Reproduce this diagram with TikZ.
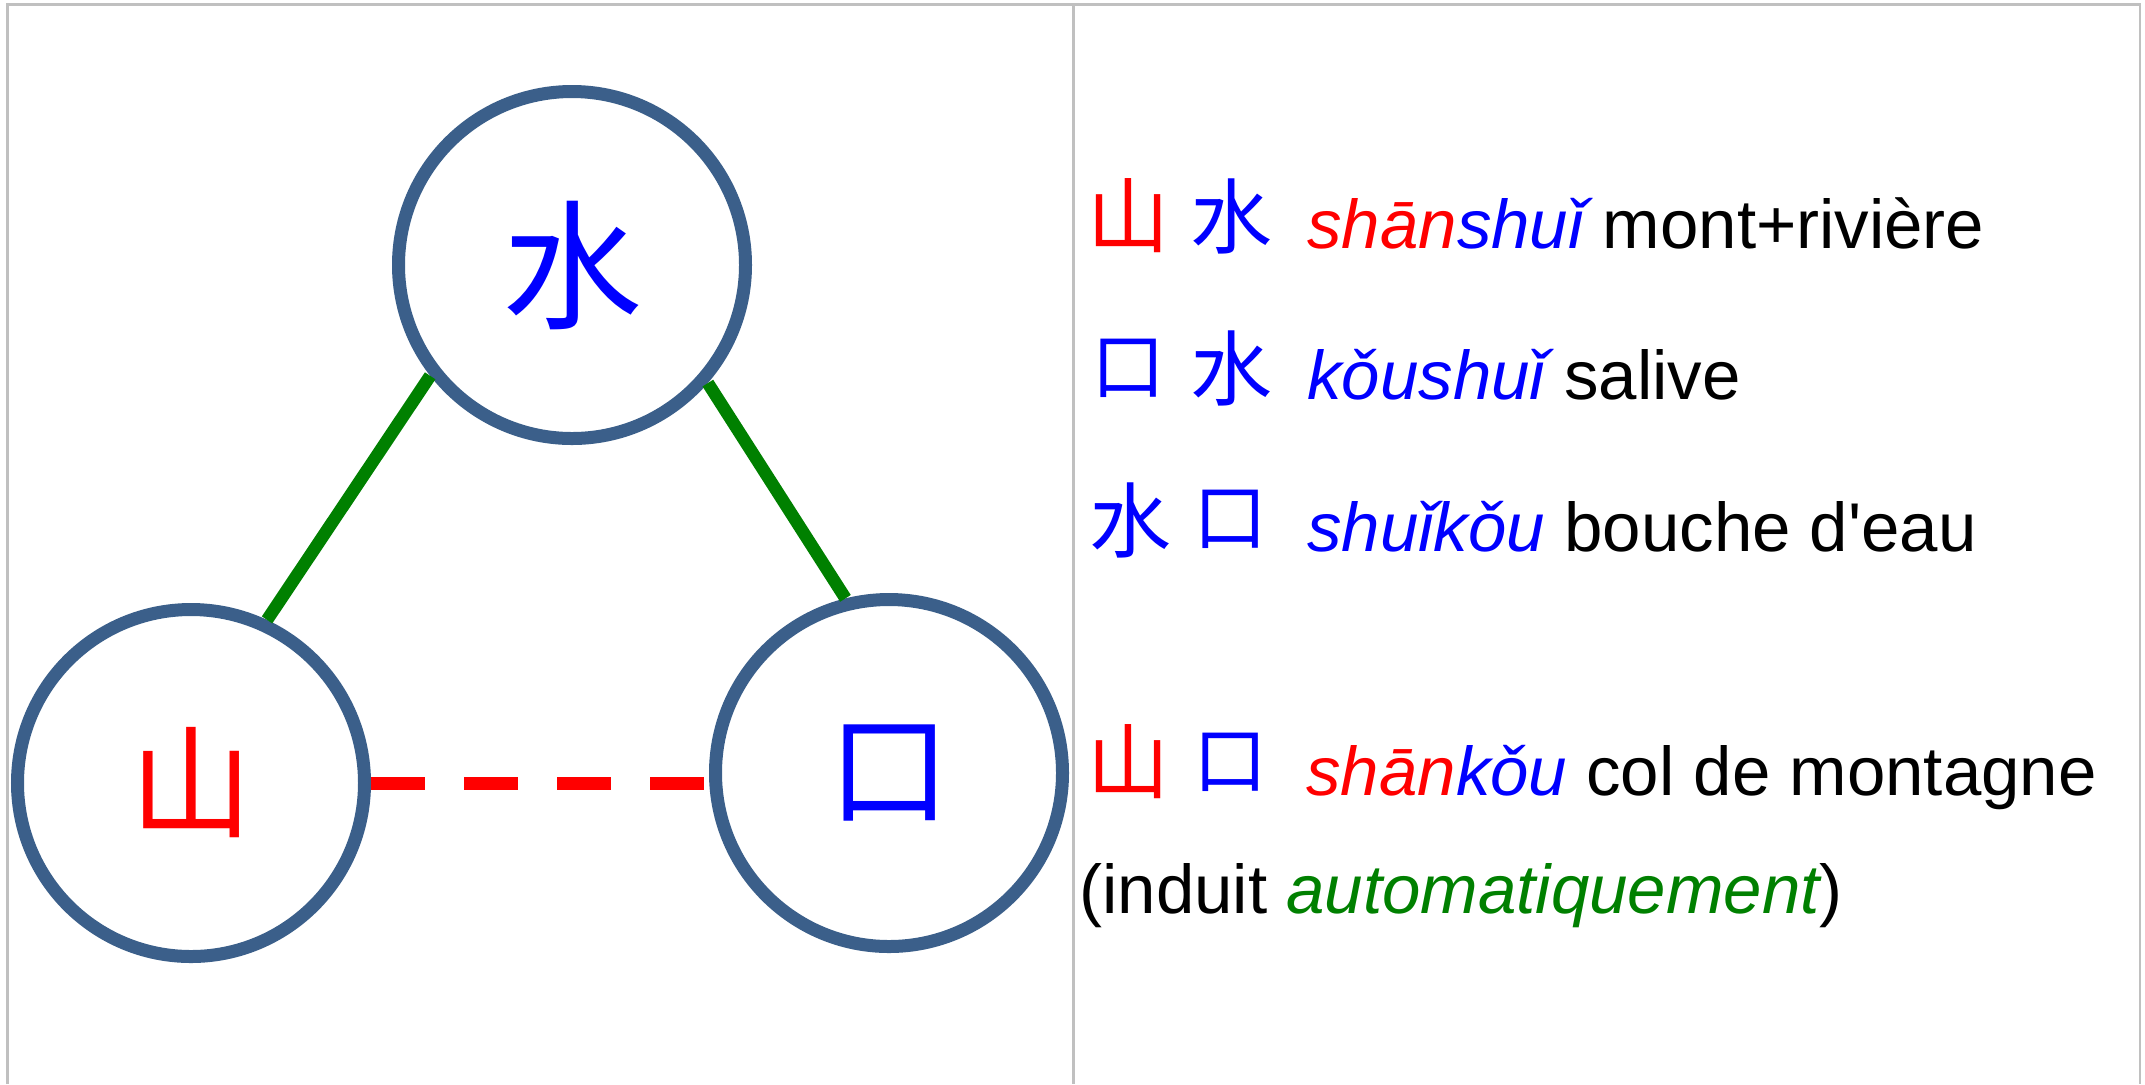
\documentclass[tikz,border=0pt]{standalone}
\usepackage{fontspec}
\newfontfamily\arialf{Liberation Sans}
\newfontfamily\cjk{Noto Sans CJK SC}
\definecolor{circ}{HTML}{3B5F8A}
\definecolor{grn}{HTML}{008000}
\definecolor{gridc}{HTML}{C0C0C0}
\begin{document}
\begin{tikzpicture}[x=0.5pt,y=-0.5pt,
  hanzi/.style={circle,draw=circ,line width=6.5pt,minimum size=173.5pt,inner sep=0pt,
    font=\cjk\fontsize{70pt}{70pt}\selectfont},
  smallhanzi/.style={hanzi,font=\cjk\fontsize{61pt}{61pt}\selectfont},
  gloss/.style={anchor=base west,inner sep=0pt,font=\arialf\fontsize{34.5pt}{40pt}\selectfont},
  zi/.style={inner sep=0pt,font=\cjk\fontsize{41pt}{41pt}\selectfont},
  smallzi/.style={inner sep=0pt,font=\cjk\fontsize{37pt}{37pt}\selectfont},
  link/.style={draw=grn,line width=6.3pt},
  frame/.style={draw=gridc,line width=1.25pt}]
\useasboundingbox (0,0) rectangle (2145,1084);
% table frame
\draw[frame] (7.5,1084) -- (7.5,4.5) -- (2140,4.5) -- (2140,1084);
\draw[frame] (1073.5,4.5) -- (1073.5,1084);
% circles
\node[hanzi,text=blue] (T) at (572,265) {水};
\node[smallhanzi,text=red]  (L) at (191,783) {山};
\node[smallhanzi,text=blue] (R) at (889,773) {口};
% connectors
\draw[link] (L.65.3) -- (T.218.5);
\draw[link] (T.319.3) -- (R.104.8);
\draw[draw=red,line width=6.5pt,dash pattern=on 27pt off 19.5pt] (L.east) -- (L.east -| R.west);
% line 1
\node[zi,text=red]  (a1) at (1128,216) {山};
\node[zi,text=blue] (b1) at (1231,216) {水};
\node[gloss] (g1) at (1307,248) {\itshape\textcolor{red}{shān}\textcolor{blue}{shuǐ}\upshape{} mont+rivière};
% line 2
\node[smallzi,text=blue] (a2) at (1128,368) {口};
\node[zi,text=blue] (b2) at (1231,368) {水};
\node[gloss] (g2) at (1307,399) {\textcolor{blue}{\itshape kǒushuǐ} salive};
% line 3
\node[zi,text=blue] (a3) at (1130,520) {水};
\node[smallzi,text=blue] (b3) at (1230,519) {口};
\node[gloss] (g3) at (1307,551) {\textcolor{blue}{\itshape shuǐkǒu} bouche d'eau};
% line 4
\node[zi,text=red]  (a4) at (1128,762) {山};
\node[smallzi,text=blue] (b4) at (1230,762) {口};
\node[gloss] (g4) at (1306,795) {\itshape\textcolor{red}{shān}\textcolor{blue}{kǒu}\upshape{} col de montagne};
% line 5
\node[gloss] (g5) at (1079,913) {(induit \textcolor{grn}{\itshape automatiquement})};
\end{tikzpicture}
\end{document}
